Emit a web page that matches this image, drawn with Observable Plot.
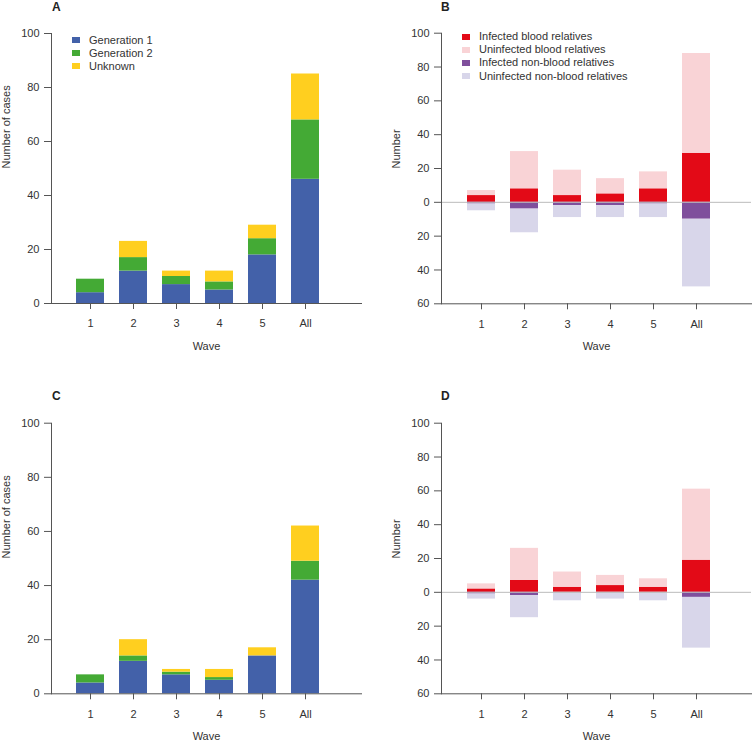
<!DOCTYPE html>
<html><head><meta charset="utf-8">
<script src="https://cdn.jsdelivr.net/npm/d3@7"></script>
<script src="https://cdn.jsdelivr.net/npm/@observablehq/plot@0.6"></script>
<style>
body{margin:0;background:#fff;font-family:"Liberation Sans",Arial,sans-serif;}
#root{position:relative;width:752px;height:744px;overflow:hidden;}
.panel{position:absolute;width:376px;height:372px;}
.letter{position:absolute;font-weight:bold;font-size:12px;line-height:14px;color:#222;}
.legend{position:absolute;left:0;top:0;font-size:11px;color:#333;}
.legend .row{position:absolute;white-space:nowrap;height:13px;line-height:13px;}
.legend .sw{position:absolute;width:8px;height:6px;}
</style></head>
<body><div id="root"></div>
<script>
const waves = ["1","2","3","4","5","All"];
const genGroups = ["Generation 1","Generation 2","Unknown"];
const genColors = ["#4361a9","#44aa35","#ffcf1f"];
// Panel A
const aGen1 = [4,12,7,5,18,46];
const aGen2 = [5,5,3,3,6,22];
const aUnknown = [0,6,2,4,5,17];
// Panel C
const cGen1 = [4,12,7,5,14,42];
const cGen2 = [3,2,1,1,0,7];
const cUnknown = [0,6,1,3,3,13];
const relGroups = ["Infected blood relatives","Uninfected blood relatives","Infected non-blood relatives","Uninfected non-blood relatives"];
const relColors = ["#e30a17","#f9d3d6","#7f4f9c","#d8d6ea"];
// Panel B (non-blood relatives plotted downward)
const bInfBlood = [4,8,4,5,8,29];
const bUninfBlood = [3,22,15,9,10,59];
const bInfNonBlood = [1,4,2,2,1,10];
const bUninfNonBlood = [4,14,7,7,8,40];
// Panel D
const dInfBlood = [2,7,3,4,3,19];
const dUninfBlood = [3,19,9,6,5,42];
const dInfNonBlood = [1,2,0,0,0,3];
const dUninfNonBlood = [3,13,5,4,5,30];
const casesTicks = [0,20,40,60,80,100];
const numberTicks = [-60,-40,-20,0,20,40,60,80,100];

const font = '"Liberation Sans", Arial, sans-serif';
const root = document.getElementById("root");

function tidy(groups, series, signs) {
  const out = [];
  series.forEach((vals, gi) => vals.forEach((v, i) =>
    out.push({wave: waves[i], group: groups[gi], value: v * signs[gi]})));
  return out;
}

function place(node, left, top) {
  const d = document.createElement("div");
  d.className = "panel";
  d.style.left = left + "px"; d.style.top = top + "px";
  d.appendChild(node);
  root.appendChild(d);
}

function genPanel(series, mt, mb) {
  const data = tidy(genGroups, series, [1,1,1]);
  return Plot.plot({
    width: 376, height: 372,
    marginLeft: 51, marginRight: 15, marginTop: mt, marginBottom: mb,
    style: {fontFamily: font, fontSize: "11px", color: "#333", background: "transparent"},
    x: {type: "band", domain: waves, range: [68.8, 326.8], paddingInner: 0.34, paddingOuter: 0.17},
    y: {domain: [0, 100]},
    color: {domain: genGroups, range: genColors},
    marks: [
      Plot.barY(data, {x: "wave", y: "value", fill: "group", order: genGroups, inset: 0}),
      Plot.frame({anchor: "left", stroke: "#555"}),
      Plot.frame({anchor: "bottom", stroke: "#555"}),
      Plot.axisY({ticks: casesTicks, tickSize: 7, tickPadding: 5, label: null, stroke: "#555"}),
      Plot.axisX({tickSize: 6, tickPadding: 10, label: null, stroke: "#555"}),
      Plot.text(["Number of cases"], {frameAnchor: "left", rotate: -90, dx: -45, fontSize: 11}),
      Plot.text(["Wave"], {frameAnchor: "bottom", dy: 46, fontSize: 11})
    ]
  });
}

function relPanel(series, mt, mb) {
  const data = tidy(relGroups, series, [1,1,-1,-1]);
  return Plot.plot({
    width: 376, height: 372,
    marginLeft: 65, marginRight: 1, marginTop: mt, marginBottom: mb,
    style: {fontFamily: font, fontSize: "11px", color: "#333", background: "transparent"},
    x: {type: "band", domain: waves, range: [83.2, 341.2], paddingInner: 0.34, paddingOuter: 0.17},
    y: {domain: [-60, 100]},
    color: {domain: relGroups, range: relColors},
    marks: [
      Plot.barY(data, {x: "wave", y: "value", fill: "group", order: relGroups, inset: 0}),
      Plot.ruleY([0], {stroke: "#bbb"}),
      Plot.frame({anchor: "left", stroke: "#555"}),
      Plot.frame({anchor: "bottom", stroke: "#555"}),
      Plot.axisY({ticks: numberTicks, tickFormat: d => Math.abs(d), tickSize: 7, tickPadding: 5, label: null, stroke: "#555"}),
      Plot.axisX({tickSize: 6, tickPadding: 10, label: null, stroke: "#555"}),
      Plot.text(["Number"], {frameAnchor: "left", rotate: -90, dx: -45, fontSize: 11}),
      Plot.text(["Wave"], {frameAnchor: "bottom", dy: 46, fontSize: 11})
    ]
  });
}

place(genPanel([aGen1, aGen2, aUnknown], 33, 69), 0, 0);
place(relPanel([bInfBlood, bUninfBlood, bInfNonBlood, bUninfNonBlood], 32.7, 68.7), 376, 0);
place(genPanel([cGen1, cGen2, cUnknown], 50.7, 50.7), 0, 372);
place(relPanel([dInfBlood, dUninfBlood, dInfNonBlood, dUninfNonBlood], 50.7, 50.7), 376, 372);

function letter(t, left, top) {
  const d = document.createElement("div");
  d.className = "letter"; d.textContent = t;
  d.style.left = left + "px"; d.style.top = top + "px";
  root.appendChild(d);
}
letter("A", 52, 0);
letter("B", 441, 0);
letter("C", 52, 389);
letter("D", 441, 389);

function legend(groups, colors, swLeft, textLeft, firstCenter, step) {
  const lg = document.createElement("div");
  lg.className = "legend";
  groups.forEach((g, i) => {
    const c = firstCenter + i * step;
    const sw = document.createElement("div");
    sw.className = "sw"; sw.style.background = colors[i];
    sw.style.left = swLeft + "px"; sw.style.top = (c - 3) + "px";
    lg.appendChild(sw);
    const r = document.createElement("div");
    r.className = "row"; r.textContent = g;
    r.style.left = textLeft + "px"; r.style.top = (c - 6.5) + "px";
    lg.appendChild(r);
  });
  root.appendChild(lg);
}
legend(genGroups, genColors, 72, 89, 40, 13);
legend(relGroups, relColors, 462, 479, 36.7, 13.1);
</script>
</body></html>
